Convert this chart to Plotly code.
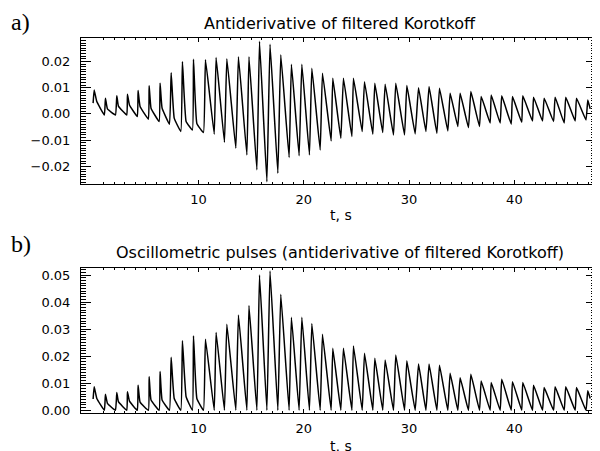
import plotly.graph_objects as go

# ---- data ----
start_t = 0.0
start_top = 0.0041
start_bot = 0.0042

peak_t = [0.1, 1.17, 2.25, 3.26, 4.27, 5.32, 6.36, 7.41, 8.48, 9.53,
          10.67, 11.68, 12.7, 13.8, 14.8, 15.8, 16.8, 17.82, 18.83, 19.82,
          20.77, 21.78, 22.76, 23.77, 24.72, 25.77, 26.75, 27.73, 28.74, 29.79,
          30.9, 31.9, 32.89, 33.9, 34.85, 35.87, 36.85, 37.8, 38.8, 39.82,
          40.8, 41.82, 42.83, 43.87, 44.88, 45.9, 46.97]

top_peak = [0.0091, 0.0060, 0.0069, 0.0075, 0.0089, 0.0107, 0.0117, 0.0157, 0.0199, 0.0208,
            0.0206, 0.0215, 0.0210, 0.0218, 0.0218, 0.0277, 0.0265, 0.0225, 0.0189, 0.0189,
            0.0174, 0.0155, 0.0136, 0.0136, 0.0136, 0.0123, 0.0117, 0.0113, 0.0117, 0.0108,
            0.0100, 0.0104, 0.0098, 0.0079, 0.0079, 0.0085, 0.0066, 0.0072, 0.0069, 0.0066,
            0.0069, 0.0064, 0.0060, 0.0064, 0.0064, 0.0060, 0.0053]

bot_peak = [0.0087, 0.0059, 0.0066, 0.0069, 0.0093, 0.0124, 0.0143, 0.0196, 0.0257, 0.0275,
            0.0263, 0.0288, 0.0318, 0.0352, 0.0387, 0.0500, 0.0515, 0.0429, 0.0344, 0.0344,
            0.0321, 0.0281, 0.0229, 0.0229, 0.0238, 0.0211, 0.0192, 0.0186, 0.0204, 0.0183,
            0.0171, 0.0171, 0.0167, 0.0137, 0.0120, 0.0133, 0.0108, 0.0103, 0.0115, 0.0106,
            0.0103, 0.0093, 0.0084, 0.0087, 0.0087, 0.0084, 0.0072]

# shoulder after the peak for the first beats
knee_t = [0.35, 1.36, 2.4, 3.45, 4.46, 5.5, 6.55, 7.7, 8.83, 9.85]
top_knee = [0.0047, 0.0019, 0.0030, 0.0034, 0.0028, 0.0022, 0.0022, -0.0016, -0.0029, -0.0036]
bot_knee = [0.0044, 0.0026, 0.0032, 0.0034, 0.0030, 0.0038, 0.0038, 0.0044, 0.0050, 0.0044]

trough_t = [1.07, 2.12, 3.2, 4.2, 5.25, 6.27, 7.25, 8.33, 9.43, 10.48,
            11.5, 12.47, 13.55, 14.6, 15.55, 16.5, 17.54, 18.61, 19.56, 20.54,
            21.56, 22.6, 23.52, 24.57, 25.55, 26.56, 27.5, 28.52, 29.57, 30.58,
            31.6, 32.64, 33.68, 34.63, 35.64, 36.69, 37.7, 38.65, 39.7, 40.7,
            41.72, 42.67, 43.72, 44.73, 45.77, 46.8]

top_trough = [-0.0004, -0.0004, -0.0004, -0.0010, -0.0020, -0.0029, -0.0039, -0.0067, -0.0061, -0.0071,
              -0.0077, -0.0108, -0.0131, -0.0156, -0.0213, -0.0258, -0.0226, -0.0166, -0.0159, -0.0156,
              -0.0137, -0.0103, -0.0093, -0.0086, -0.0067, -0.0077, -0.0071, -0.0080, -0.0080, -0.0076,
              -0.0067, -0.0074, -0.0065, -0.0048, -0.0052, -0.0048, -0.0035, -0.0035, -0.0039, -0.0032,
              -0.0027, -0.0027, -0.0029, -0.0035, -0.0027, -0.0023]

bot_trough = [0.0] * len(trough_t)

end_t = 47.2
end_top = 0.0019
end_bot = 0.0044

x_tickvals = [10, 20, 30, 40]
top_yticks = [-0.02, -0.01, 0.0, 0.01, 0.02]
bot_yticks = [0.0, 0.01, 0.02, 0.03, 0.04, 0.05]


def build(start_v, peaks, knees, troughs, end_v):
    xs, ys = [start_t], [start_v]
    for i in range(len(peak_t)):
        xs.append(peak_t[i]); ys.append(peaks[i])
        if i < len(knee_t):
            xs.append(knee_t[i]); ys.append(knees[i])
        if i < len(trough_t):
            xs.append(trough_t[i]); ys.append(troughs[i])
    xs.append(end_t); ys.append(end_v)
    return xs, ys


tx, ty = build(start_top, top_peak, top_knee, top_trough, end_top)
bx, by = build(start_bot, bot_peak, bot_knee, bot_trough, end_bot)

# the page body has an 8px margin, so the figure is drawn 8px smaller and all
# reference pixel positions are shifted by that amount
OFF = 8
W, H = 600 - OFF, 451 - OFF
FONT = "DejaVu Sans"
LINE = dict(color="black", width=1.5, shape="spline", smoothing=0.3)


def fx(px):
    return (px - OFF) / W


def fy(py):
    return 1 - (py - OFF) / H


fig = go.Figure()
fig.add_trace(go.Scatter(x=tx, y=ty, mode="lines", line=LINE,
                         xaxis="x", yaxis="y", showlegend=False, hoverinfo="skip"))
fig.add_trace(go.Scatter(x=bx, y=by, mode="lines", line=LINE,
                         xaxis="x2", yaxis="y2", showlegend=False, hoverinfo="skip"))

xdom = [fx(81), fx(596)]
top_dom = [fy(184.3), fy(38.3)]
bot_dom = [fy(413.3), fy(267.7)]

minor_x = [v for v in range(1, 48) if v not in x_tickvals]


def xaxis(anchor):
    return dict(domain=xdom, anchor=anchor, range=[-1.15, 47.75], showgrid=False, zeroline=False,
                automargin=False,
                showline=True, linecolor="black", linewidth=1, mirror="allticks",
                ticks="inside", ticklen=4, tickcolor="black", tickwidth=1,
                tickmode="array", tickvals=x_tickvals, ticktext=[str(v) for v in x_tickvals],
                tickfont=dict(family=FONT, size=13, color="black"), ticklabelstandoff=3,
                minor=dict(tickmode="array", tickvals=minor_x, ticks="inside", ticklen=2,
                           tickcolor="black", tickwidth=1, showgrid=False))


def yaxis(anchor, dom, rng, vals):
    return dict(domain=dom, anchor=anchor, range=rng, showgrid=False, zeroline=False,
                automargin=False,
                showline=True, linecolor="black", linewidth=1, mirror="allticks",
                ticks="inside", ticklen=10, tickcolor="black", tickwidth=1,
                tickmode="array", tickvals=vals, ticktext=[f"{v:.2f}".replace("-", "\u2212") for v in vals],
                tickfont=dict(family=FONT, size=13, color="black"), ticklabelstandoff=7,
                minor=dict(dtick=0.001, ticks="inside", ticklen=5, tickcolor="black",
                           tickwidth=1, showgrid=False))


fig.update_layout(
    width=W, height=H, margin=dict(l=0, r=0, t=0, b=0, pad=0),
    paper_bgcolor="white", plot_bgcolor="white",
    xaxis=xaxis("y"),
    yaxis=yaxis("x", top_dom, [-0.0268, 0.0288], top_yticks),
    xaxis2=xaxis("y2"),
    yaxis2=yaxis("x2", bot_dom, [-0.0011, 0.0527], bot_yticks),
)


def ann(text, px, py, size, family=FONT, xanchor="center"):
    fig.add_annotation(text=text, x=fx(px), y=fy(py), xref="paper", yref="paper",
                       showarrow=False, xanchor=xanchor, yanchor="middle",
                       font=dict(family=family, size=size, color="black"))


ann("Antiderivative of filtered Korotkoff", 340, 23, 16)
ann("Oscillometric pulses (antiderivative of filtered Korotkoff)", 340, 252, 16)
ann("t, s", 341, 215, 14)
ann("t, s", 341, 446, 14)
ann("a)", 9, 22, 24, family="Liberation Serif", xanchor="left")
ann("b)", 9, 244, 24, family="Liberation Serif", xanchor="left")

fig.write_html("out.html")
